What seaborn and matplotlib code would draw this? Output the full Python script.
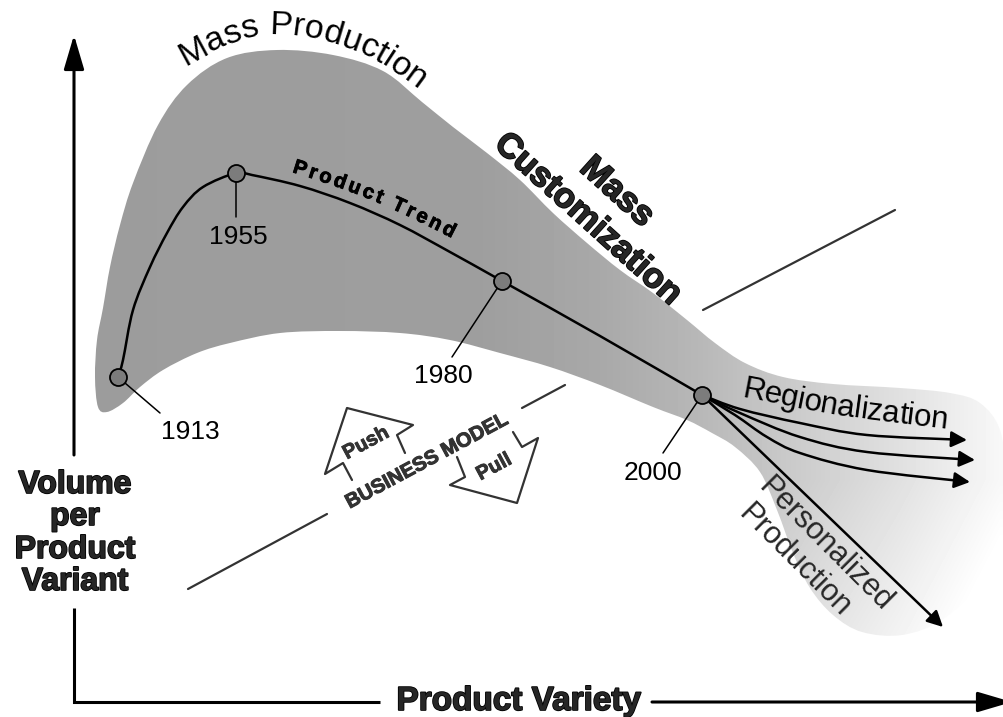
"""Mass production -> mass customization product trend diagram."""

import matplotlib
matplotlib.use("Agg")
import matplotlib.patheffects as pe
import matplotlib.pyplot as plt
import numpy as np
import seaborn as sns
from matplotlib.font_manager import FontProperties, findfont, get_font
from matplotlib.patches import ArrowStyle, FancyArrowPatch, PathPatch
from matplotlib.path import Path

W, H, DPI = 1004, 717, 100
FONT = "Liberation Sans"

# milestones on the product trend (canvas pixels, y grows downwards)
years = ["1913", "1955", "1980", "2000"]
year_x = [118, 236, 502, 702]
year_y = [377, 173, 281, 395]
leader_x = [160, 236, 452, 663]
leader_y = [413, 217, 357, 453]
label_x = [190, 238, 443, 653]
label_y = [432, 237, 376, 473]

# product trend curve
trend_x = [118, 123, 133, 150, 167, 183, 203, 236, 252, 300, 350, 400, 450, 502, 600, 702]
trend_y = [377, 360, 310, 267, 233, 207, 187, 173, 175, 186, 203, 225, 252, 281, 336, 395]

# outline of the shaded production band
blob_x = [107, 98, 95, 97, 103, 110, 120, 133, 158, 187, 227, 277, 333, 383, 422,
          453, 487, 520, 553, 587, 620, 653, 687, 715, 745, 783, 833, 900, 950, 980,
          1000, 1006, 1001, 978, 942, 902, 862, 833, 810, 793, 777, 760, 735, 712,
          687, 653, 600, 550, 500, 450, 400, 340, 280, 230, 197, 163, 140, 123]
blob_y = [412, 407, 377, 340, 308, 267, 225, 183, 125, 85, 58, 50, 55, 71, 102,
          127, 153, 180, 213, 243, 270, 293, 320, 343, 363, 377, 384, 388, 393, 403,
          430, 480, 540, 585, 620, 635, 632, 615, 588, 553, 510, 472, 447, 433,
          420, 407, 385, 367, 353, 340, 333, 331, 333, 343, 353, 370, 387, 403]

# fan of arrows leaving the year 2000
fan_x = [[702, 740, 800, 867, 967],
         [702, 740, 800, 867, 975],
         [702, 735, 767, 800, 867, 970],
         [702, 943]]
fan_y = [[395, 409, 423, 435, 440],
         [395, 413, 437, 452, 460],
         [395, 415, 437, 453, 470, 482],
         [395, 627]]

# business model line and push / pull outline arrows
bm_segments_x = [[188, 327], [522, 565], [703, 895]]
bm_segments_y = [[589, 514], [408, 385], [310, 210]]
push_x = [352, 343, 325, 347, 413, 397, 405]
push_y = [480, 463, 474, 408, 425, 435, 453]
pull_x = [457, 465, 450, 517, 538, 522, 513]
pull_y = [457, 477, 485, 503, 438, 447, 432]

# text baselines that follow a curve
mass_prod_x = [185, 222, 262, 300, 340, 378, 418]
mass_prod_y = [66, 47, 35, 36, 46, 62, 90]
trend_lbl_x = [292, 332, 372, 412, 452]
trend_lbl_y = [172, 185, 200, 218, 238]
region_x = [741, 783, 830, 880, 947]
region_y = [397, 405, 414, 421, 429]

# shading of the band (left dark, fading out to the right)
shade_x = [0, 480, 600, 700, 800, 900, 1000]
shade_v = [0.61, 0.62, 0.66, 0.72, 0.80, 0.88, 0.97]


def smooth_path(xs, ys, closed=False):
    """Catmull-Rom through the read points, handed to matplotlib as cubic Beziers."""
    p = np.column_stack([xs, ys]).astype(float)
    n = len(p)
    if n == 2:
        return Path(p)
    if closed:
        ext = np.vstack([p[-1], p, p[0], p[1]])
        segs = n
    else:
        ext = np.vstack([p[0], p, p[-1]])
        segs = n - 1
    verts = [ext[1]]
    codes = [Path.MOVETO]
    for i in range(segs):
        p0, p1, p2, p3 = ext[i], ext[i + 1], ext[i + 2], ext[i + 3]
        verts += [p1 + (p2 - p0) / 6, p2 - (p3 - p1) / 6, p2]
        codes += [Path.CURVE4] * 3
    if closed:
        verts.append(ext[1])
        codes.append(Path.CLOSEPOLY)
    return Path(verts, codes)


def heavy(width=0.9, color="black"):
    return [pe.withStroke(linewidth=width, foreground=color)]


def text_on_path(ax, text, xs, ys, size, weight="normal", color="black", effects=None):
    """Lay characters along a curved baseline, spread to fill it."""
    prop = FontProperties(family=FONT, size=size, weight=weight)
    font = get_font(findfont(prop))
    font.set_size(size, DPI)
    adv = [font.load_char(ord(c)).linearHoriAdvance / 65536 for c in text]
    poly = smooth_path(xs, ys).to_polygons(closed_only=False)[0]
    s = np.concatenate([[0], np.cumsum(np.hypot(np.diff(poly[:, 0]), np.diff(poly[:, 1])))])
    track = (s[-1] - sum(adv)) / (len(text) - 1)
    pos = 0.0
    for c, a in zip(text, adv):
        mid = pos + a / 2
        x, y = np.interp(mid, s, poly[:, 0]), np.interp(mid, s, poly[:, 1])
        x1, y1 = np.interp(mid - 3, s, poly[:, 0]), np.interp(mid - 3, s, poly[:, 1])
        x2, y2 = np.interp(mid + 3, s, poly[:, 0]), np.interp(mid + 3, s, poly[:, 1])
        ang = np.degrees(np.arctan2(-(y2 - y1), x2 - x1))
        ax.text(x, y, c, fontsize=size, fontweight=weight, color=color, family=FONT,
                rotation=ang, rotation_mode="anchor", ha="center", va="baseline",
                zorder=6, path_effects=effects)
        pos += a + track


sns.set_theme(style="white")
plt.rcParams["font.family"] = [FONT, "DejaVu Sans"]

fig = plt.figure(figsize=(W / DPI, H / DPI), dpi=DPI)
ax = fig.add_axes([0, 0, 1, 1])

# shaded band with a horizontal gradient
blob_patch = PathPatch(smooth_path(blob_x, blob_y, closed=True), transform=ax.transData,
                       facecolor="none", edgecolor="none")
gx = np.arange(W) + 0.5
gy = np.arange(H) + 0.5
shade = np.interp(gx, shade_x, shade_v)[None, :]
shade = shade + np.interp(gy, [480, 650], [0, 0.08])[:, None] * np.interp(gx, [650, 750], [0, 1])[None, :]
im = ax.imshow(np.clip(shade, 0, 1), cmap="gray", vmin=0, vmax=1, extent=(0, W, H, 0),
               interpolation="bilinear", zorder=1)
im.set_clip_path(blob_patch)

# business model line
bm_color = "#333333"
for sx, sy in zip(bm_segments_x, bm_segments_y):
    ax.plot(sx, sy, color=bm_color, lw=1.6, zorder=2)
ax.plot(push_x, push_y, color=bm_color, lw=1.6, zorder=2)
ax.plot(pull_x, pull_y, color=bm_color, lw=1.6, zorder=2)
bm_angle = np.degrees(np.arctan2(bm_segments_y[0][0] - bm_segments_y[-1][-1],
                                 bm_segments_x[-1][-1] - bm_segments_x[0][0]))
ax.text(427, 461, "BUSINESS MODEL", fontsize=14.5, fontweight="bold", color=bm_color,
        rotation=bm_angle, ha="center", va="center", rotation_mode="anchor", zorder=6,
        path_effects=heavy(0.7, bm_color))
ax.text(366, 443, "Push", fontsize=14.5, fontweight="bold", color=bm_color,
        rotation=bm_angle, ha="center", va="center", rotation_mode="anchor", zorder=6,
        path_effects=heavy(0.6, bm_color))
ax.text(494, 467, "Pull", fontsize=14.5, fontweight="bold", color=bm_color,
        rotation=bm_angle, ha="center", va="center", rotation_mode="anchor", zorder=6,
        path_effects=heavy(0.6, bm_color))

# product trend, leaders, milestones
ax.add_patch(PathPatch(smooth_path(trend_x, trend_y), fill=False, edgecolor="black", lw=1.8, zorder=3))
for yx, yy, lx, ly in zip(year_x, year_y, leader_x, leader_y):
    ax.plot([yx, lx], [yy, ly], color="black", lw=1.1, zorder=4)
sns.scatterplot(x=year_x, y=year_y, s=150, color="#7c7c7c", edgecolor="black",
                linewidth=1.3, zorder=5, ax=ax, legend=False)
for yr, lx, ly in zip(years, label_x, label_y):
    ax.text(lx, ly, yr, fontsize=19, ha="center", va="center", color="black", zorder=6)

# fan of arrows
head_small = ArrowStyle("-|>", head_length=9.5, head_width=4.8)
for fx, fy in zip(fan_x, fan_y):
    ax.add_patch(FancyArrowPatch(path=smooth_path(fx, fy), arrowstyle=head_small,
                                 mutation_scale=1, lw=1.8, color="black",
                                 shrinkA=0, shrinkB=0, zorder=4))

# labels
text_on_path(ax, "Mass Production", mass_prod_x, mass_prod_y, 24.5)
text_on_path(ax, "Product Trend", trend_lbl_x, trend_lbl_y, 14.5, weight="bold",
             effects=heavy(0.6))
text_on_path(ax, "Regionalization", region_x, region_y, 22.5)
ax.text(617, 192, "Mass", fontsize=25, fontweight="bold", rotation=-42,
        ha="center", va="center", rotation_mode="anchor", zorder=6, path_effects=heavy(1.2))
ax.text(588, 219, "Customization", fontsize=25, fontweight="bold", rotation=-42,
        ha="center", va="center", rotation_mode="anchor", zorder=6, path_effects=heavy(1.2))
ax.text(825, 544, "Personalized", fontsize=22, rotation=-45,
        ha="center", va="center", rotation_mode="anchor", zorder=6)
ax.text(795, 561, "Production", fontsize=22, rotation=-45,
        ha="center", va="center", rotation_mode="anchor", zorder=6)

# axes drawn as arrows
head_big = ArrowStyle("-|>", head_length=21, head_width=6.2)
ax.plot([74, 74, 380], [608, 702, 702], color="black", lw=2.2, solid_capstyle="butt",
        solid_joinstyle="miter", zorder=4)
ax.add_patch(FancyArrowPatch(posA=(74, 455), posB=(74, 35), arrowstyle=head_big,
                             mutation_scale=1, lw=2.2, color="black", shrinkA=0, shrinkB=0, zorder=4))
ax.add_patch(FancyArrowPatch(posA=(652, 702), posB=(1012, 702), arrowstyle=head_big,
                             mutation_scale=1, lw=2.2, color="black", shrinkA=0, shrinkB=0, zorder=4))
for ty, word in zip([493, 525, 558, 590], ["Volume", "per", "Product", "Variant"]):
    ax.text(75, ty, word, fontsize=23, fontweight="bold", ha="center", va="baseline",
            zorder=6, path_effects=heavy(1.2))
ax.text(519, 710, "Product Variety", fontsize=24, fontweight="bold", ha="center",
        va="baseline", zorder=6, path_effects=heavy(1.2))

ax.set_xlim(0, W)
ax.set_ylim(H, 0)
ax.set_aspect("auto")
ax.set_axis_off()

fig.savefig("out.png", dpi=DPI)
